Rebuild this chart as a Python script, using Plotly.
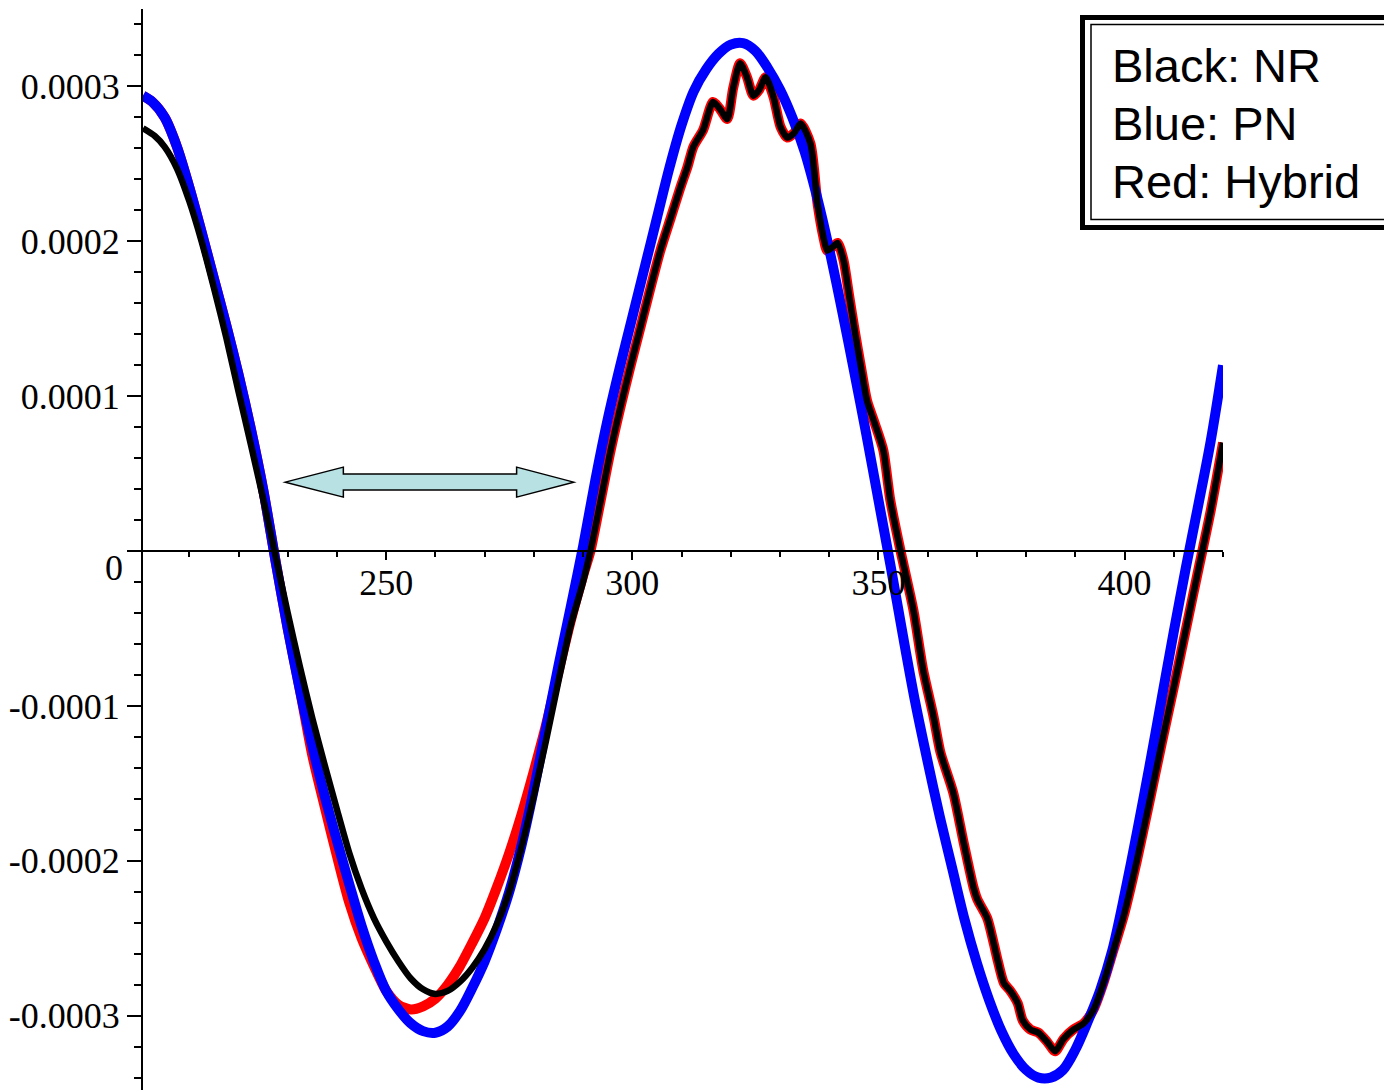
import numpy as np
import plotly.graph_objects as go

SCALE = 1e-4  # values below are in units of 1e-4

# ---- PN (blue) ----
pn_x = [200.6, 202.5, 205, 207.5, 210, 212.5, 215, 217.5, 220, 222.5, 225, 227.5,
        230, 232.5, 235, 237.5, 240, 242.5, 245, 247.5, 250, 252.5, 255, 257.5,
        260, 262.5, 265, 267.5, 270, 272.5, 275, 277.5, 280, 282.5, 285, 287.5,
        290, 292.5, 295, 297.5, 300, 302.5, 305, 307.5, 310, 312.5, 315, 317.5,
        320, 322.5, 325, 327.5, 330, 332.5, 335, 337.5, 340, 342.5, 345, 347.5,
        350, 352.5, 355, 357.5, 360, 362.5, 365, 367.5, 370, 372.5, 375, 377.5,
        380, 382.5, 385, 387.5, 390, 392.5, 395, 397.5, 400, 402.5, 405, 407.5,
        410, 412.5, 415, 417.5, 420]
pn_y = [2.94, 2.90, 2.80, 2.61, 2.35, 2.06, 1.76, 1.46, 1.14, 0.79, 0.40, -0.06,
        -0.50, -0.90, -1.26, -1.58, -1.87, -2.15, -2.42, -2.65, -2.84, -2.96, -3.05, -3.10,
        -3.11, -3.07, -2.97, -2.82, -2.65, -2.44, -2.20, -1.90, -1.54, -1.14, -0.74, -0.36,
        0.03, 0.46, 0.85, 1.19, 1.51, 1.83, 2.15, 2.47, 2.75, 2.97, 3.11, 3.21,
        3.27, 3.28, 3.23, 3.12, 2.98, 2.80, 2.58, 2.29, 1.95, 1.57, 1.17, 0.76,
        0.33, -0.10, -0.55, -0.98, -1.36, -1.72, -2.05, -2.38, -2.66, -2.90, -3.10, -3.25,
        -3.35, -3.40, -3.40, -3.35, -3.22, -3.04, -2.84, -2.58, -2.22, -1.82, -1.40, -0.96,
        -0.52, -0.10, 0.30, 0.71, 1.20]

# ---- NR (black) ----
nr_x = [200.6, 203, 205, 207.5, 210, 212.5, 215, 217.5, 220, 222.5, 225, 227.5,
        230, 232.5, 235, 237.5, 240, 242.5, 245, 247.5, 250, 252.5, 255, 257.5,
        260, 262.5, 265, 267.5, 270, 272.5, 275, 277.5, 280, 282.5, 285, 287.5,
        290, 291.5, 293.6, 295.6, 297.6, 299.6, 301.7, 303.7, 305.7, 307.7, 309.8,
        311.2, 312.4, 314.4, 316.4, 317.9, 319.3, 320.5, 321.9, 323.3, 324.6, 325.8,
        327.1, 328.7, 330.1, 331.5, 332.9, 334.2, 336.2, 337.6, 338.8, 339.6, 340.6,
        341.7, 342.9, 344.0, 345.2, 346.5, 347.7, 349.3, 351.0, 352.4, 354.5, 357.1,
        359.1, 361.2, 362.6, 365.2, 367.3, 369.3, 370.1, 372.1, 373.4, 374.2, 375.5,
        376.8, 378.3, 379.3, 380.9, 382.5, 384.3, 385.9, 387.6, 389.6, 391.7, 393.7,
        395.7, 397.8, 399.8, 402.5, 405, 407.5, 410, 412.5, 415, 417.5, 420]
nr_y = [2.73, 2.68, 2.61, 2.47, 2.26, 2.00, 1.70, 1.38, 1.03, 0.69, 0.34, -0.03,
        -0.40, -0.75, -1.08, -1.38, -1.67, -1.95, -2.18, -2.37, -2.52, -2.65, -2.76, -2.83,
        -2.86, -2.84, -2.78, -2.69, -2.57, -2.41, -2.20, -1.91, -1.58, -1.22, -0.84, -0.48,
        -0.20, 0.00, 0.33, 0.65, 0.93, 1.19, 1.45, 1.70, 1.94, 2.14, 2.35,
        2.48, 2.61, 2.72, 2.90, 2.85, 2.79, 2.99, 3.15, 3.06, 2.94, 2.98,
        3.06, 2.93, 2.74, 2.67, 2.70, 2.76, 2.63, 2.25, 2.03, 1.94, 1.96,
        1.99, 1.88, 1.66, 1.42, 1.18, 0.97, 0.82, 0.65, 0.33, 0.00, -0.38,
        -0.77, -1.07, -1.30, -1.56, -1.88, -2.17, -2.25, -2.37, -2.53, -2.64, -2.79,
        -2.84, -2.92, -3.03, -3.09, -3.11, -3.17, -3.23, -3.15, -3.09, -3.05, -2.96,
        -2.79, -2.57, -2.36, -2.00, -1.63, -1.25, -0.88, -0.50, -0.12, 0.26, 0.70]

# ---- Hybrid (red): PN early, own blend, NR late ----
hyb_mid_x = [230, 232.5, 235, 237.5, 240, 242.5, 245, 247.5, 250, 252.5, 255, 257.5,
             260, 262.5, 265, 267.5, 270, 272.5, 275, 277.5, 280, 282.5, 285, 287.5, 290]
hyb_mid_y = [-0.50, -0.90, -1.32, -1.65, -1.97, -2.27, -2.50, -2.68, -2.84, -2.93, -2.96, -2.94,
             -2.89, -2.80, -2.68, -2.53, -2.37, -2.17, -1.95, -1.70, -1.42, -1.12, -0.78, -0.45, -0.16]
n_pn_early = 12       # PN samples used before the blend (x < 230)
n_nr_late_start = 37  # NR samples from x = 291.5 on

hyb_x = pn_x[:n_pn_early] + hyb_mid_x + nr_x[n_nr_late_start:]
hyb_y = pn_y[:n_pn_early] + hyb_mid_y + nr_y[n_nr_late_start:]

# ---- axes ----
x_range = [200.6, 420]
y_range = [-3.48 * SCALE, 3.50 * SCALE]
y_tickvals = [-3, -2, -1, 0, 1, 2, 3]
y_ticktext = ["-0.0003", "-0.0002", "-0.0001", "", "0.0001", "0.0002", "0.0003"]

# ---- arrow annotation (data coords, y in 1e-4) ----
arrow_x = [229.5, 241.3, 241.3, 276.5, 276.5, 288.1, 276.5, 276.5, 241.3, 241.3]
arrow_y = [0.445, 0.542, 0.497, 0.497, 0.542, 0.445, 0.348, 0.394, 0.394, 0.348]

legend_lines = ["Black: NR", "Blue: PN", "Red: Hybrid"]

W, H = 1384, 1090
ML, MR, MT, MB = 143, 161, 9, 0
PW, PH = W - ML - MR, H - MT - MB


def px2paper_x(px):
    return (px - ML) / PW


def px2paper_y(py):
    return (H - MB - py) / PH


fig = go.Figure()
fig.add_trace(go.Scatter(x=hyb_x, y=np.array(hyb_y) * SCALE, mode="lines",
                         line=dict(color="#ff0000", width=10, shape="spline", smoothing=0.7),
                         name="Hybrid"))
fig.add_trace(go.Scatter(x=pn_x, y=np.array(pn_y) * SCALE, mode="lines",
                         line=dict(color="#0000ff", width=10, shape="spline", smoothing=0.9),
                         name="PN"))
fig.add_trace(go.Scatter(x=nr_x, y=np.array(nr_y) * SCALE, mode="lines",
                         line=dict(color="#000000", width=6.5, shape="spline", smoothing=0.7),
                         name="NR"))

path = "M " + " L ".join(f"{x},{y * SCALE}" for x, y in zip(arrow_x, arrow_y)) + " Z"
fig.add_shape(type="path", path=path, xref="x", yref="y",
              fillcolor="#b8e1e4", line=dict(color="black", width=1.5), layer="above")

# legend box (double border)
fig.add_shape(type="rect", xref="paper", yref="paper",
              x0=px2paper_x(1082.5), x1=px2paper_x(1410),
              y0=px2paper_y(227.5), y1=px2paper_y(17.5),
              line=dict(color="black", width=5), fillcolor="white", layer="above")
fig.add_shape(type="rect", xref="paper", yref="paper",
              x0=px2paper_x(1091), x1=px2paper_x(1410),
              y0=px2paper_y(219.5), y1=px2paper_y(24.5),
              line=dict(color="black", width=1.5), layer="above")
for txt, py in zip(legend_lines, [66, 123, 181]):
    fig.add_annotation(text=txt, xref="paper", yref="paper",
                       x=px2paper_x(1110), y=px2paper_y(py),
                       xanchor="left", yanchor="middle", showarrow=False,
                       font=dict(family="Liberation Sans, Arial", size=47, color="black"))

serif = dict(family="Liberation Serif, Times New Roman", size=36, color="black")
fig.add_annotation(text="0", xref="paper", yref="y", x=0, y=0,
                   xanchor="right", yanchor="middle", xshift=-18, yshift=-17,
                   showarrow=False, font=serif)

fig.update_layout(
    width=W, height=H,
    margin=dict(l=ML, r=MR, t=MT, b=MB, pad=0),
    paper_bgcolor="white", plot_bgcolor="white",
    showlegend=False,
    xaxis=dict(range=x_range, anchor="free",
               position=(0 - y_range[0]) / (y_range[1] - y_range[0]),
               showline=True, linecolor="black", linewidth=2,
               showgrid=False, zeroline=False,
               tickmode="linear", tick0=0, dtick=50,
               ticks="outside", ticklen=8, tickwidth=1.5, tickcolor="black",
               tickfont=serif, automargin=False, ticklabelstandoff=-8,
               minor=dict(tickmode="linear", tick0=0, dtick=10, ticks="outside",
                          ticklen=5, tickwidth=1.5, tickcolor="black", showgrid=False)),
    yaxis=dict(range=y_range, showline=True, linecolor="black", linewidth=2,
               showgrid=False, zeroline=False,
               tickmode="array", tickvals=[v * SCALE for v in y_tickvals],
               ticktext=y_ticktext,
               ticks="outside", ticklen=14, tickwidth=1.5, tickcolor="black",
               tickfont=serif, automargin=False,
               minor=dict(tickmode="linear", tick0=0, dtick=0.2 * SCALE, ticks="outside",
                          ticklen=7, tickwidth=1.5, tickcolor="black", showgrid=False)),
)

fig.write_html("out.html", include_plotlyjs=True, config={"displayModeBar": False})
